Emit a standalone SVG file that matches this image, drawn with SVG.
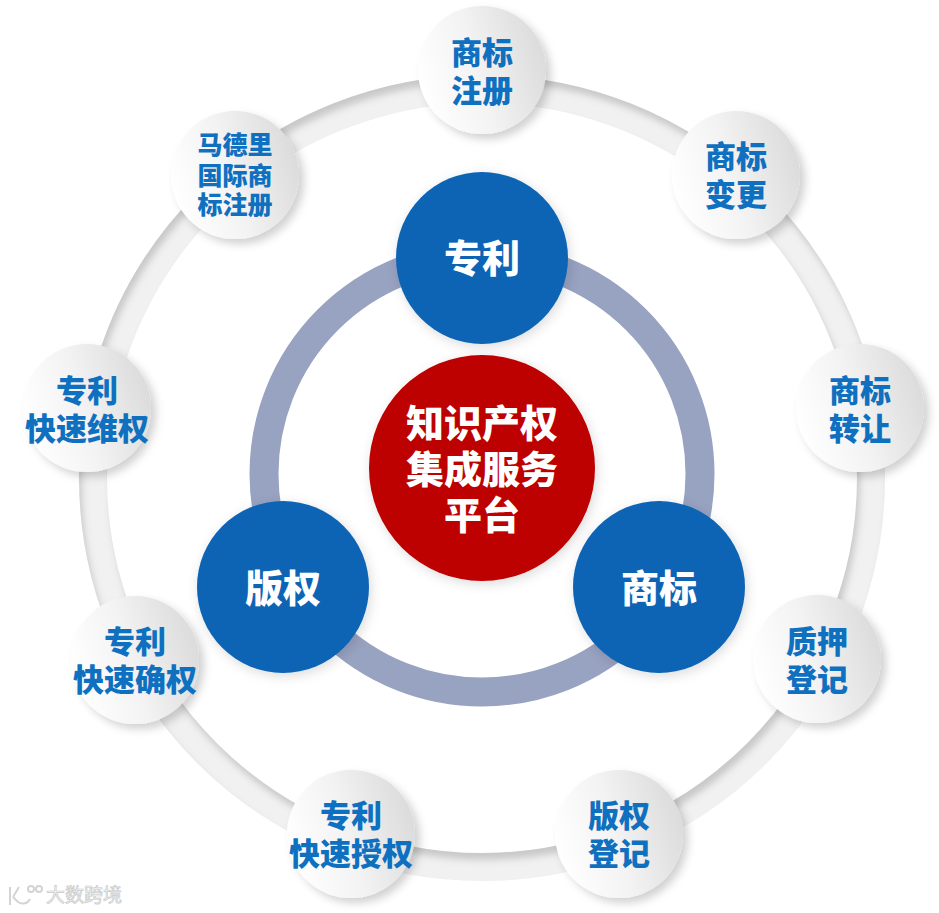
<svg xmlns="http://www.w3.org/2000/svg" width="939" height="913" viewBox="0 0 939 913">
<style>
text{font-family:"Noto Sans CJK SC","Liberation Sans",sans-serif;font-weight:900;text-anchor:middle}
.s{fill:#0f70c0;font-size:31px}
.s3{fill:#0f70c0;font-size:25px}
.b{fill:#fff;font-size:38px}
.r{fill:#fff;font-size:38px}
.w{fill:#f6f6f6;stroke:#c9c9c9;stroke-width:.7;font-size:19px;font-weight:400;text-anchor:start}
.n{fill:url(#g);filter:url(#ds)}
.bl{fill:#0a64b4;filter:url(#ds2)}
.wi{fill:none;stroke:#d4d4d4;stroke-width:2}
</style>
<defs>
<linearGradient id="g" x1="0" y1="0.6" x2="1" y2="0.3"><stop offset="0" stop-color="#fff"/><stop offset=".45" stop-color="#f3f3f3"/><stop offset="1" stop-color="#dadada"/></linearGradient>
<filter id="ds" x="-30%" y="-30%" width="160%" height="160%"><feDropShadow dx="5" dy="5" stdDeviation="4.5" flood-color="#000" flood-opacity=".18"/></filter>
<filter id="ds2" x="-30%" y="-30%" width="160%" height="160%"><feDropShadow dx="2" dy="3" stdDeviation="6" flood-color="#000" flood-opacity=".14"/></filter>
<filter id="rs" x="-5%" y="-5%" width="110%" height="110%">
<feComponentTransfer in="SourceAlpha" result="inv"><feFuncA type="table" tableValues="1 0"/></feComponentTransfer>
<feOffset in="inv" dx="3" dy="7" result="off"/>
<feGaussianBlur in="off" stdDeviation="3.5" result="bl"/>
<feFlood flood-color="#000" flood-opacity=".34"/>
<feComposite in2="bl" operator="in" result="sh"/>
<feComposite in="sh" in2="SourceAlpha" operator="in" result="clip"/>
<feMerge><feMergeNode in="SourceGraphic"/><feMergeNode in="clip"/></feMerge>
</filter>
</defs>
<g id="connectors">
<circle cx="482" cy="478" r="389" fill="none" stroke="#f1f1f1" stroke-width="28" filter="url(#rs)"/>
<circle cx="482" cy="474" r="218" fill="none" stroke="#98a2c1" stroke-width="29"/>
</g>
<g id="center"><circle cx="482" cy="468" r="113" fill="#bd0000" filter="url(#ds2)"/><text class="r" x="482" y="437">知识产权</text><text class="r" x="482" y="483">集成服务</text><text class="r" x="482" y="529">平台</text></g>
<g id="patent"><circle class="bl" cx="482" cy="258" r="86"/><text class="b" x="482" y="272">专利</text></g>
<g id="copyright"><circle class="bl" cx="283" cy="587" r="86"/><text class="b" x="283" y="602">版权</text></g>
<g id="trademark"><circle class="bl" cx="659" cy="587" r="86"/><text class="b" x="659" y="602">商标</text></g>
<g id="n1"><circle class="n" cx="482" cy="70" r="64"/><text class="s" x="482" y="64">商标</text><text class="s" x="482" y="102">注册</text></g>
<g id="n2"><circle class="n" cx="736" cy="175" r="64"/><text class="s" x="736" y="168">商标</text><text class="s" x="736" y="206">变更</text></g>
<g id="n3"><circle class="n" cx="860" cy="408" r="64"/><text class="s" x="860" y="402">商标</text><text class="s" x="860" y="440">转让</text></g>
<g id="n4"><circle class="n" cx="817" cy="659" r="64"/><text class="s" x="817" y="653">质押</text><text class="s" x="817" y="691">登记</text></g>
<g id="n5"><circle class="n" cx="619" cy="834" r="64"/><text class="s" x="619" y="827">版权</text><text class="s" x="619" y="865">登记</text></g>
<g id="n6"><circle class="n" cx="351" cy="834" r="64"/><text class="s" x="351" y="827">专利</text><text class="s" x="351" y="865">快速授权</text></g>
<g id="n7"><circle class="n" cx="135" cy="660" r="64"/><text class="s" x="135" y="653">专利</text><text class="s" x="135" y="691">快速确权</text></g>
<g id="n8"><circle class="n" cx="87" cy="408" r="64"/><text class="s" x="87" y="402">专利</text><text class="s" x="87" y="440">快速维权</text></g>
<g id="n9"><circle class="n" cx="235" cy="175" r="64"/><text class="s3" x="235" y="154">马德里</text><text class="s3" x="235" y="185">国际商</text><text class="s3" x="235" y="214">标注册</text></g>
<g id="watermark"><path class="wi" d="M10 887V905M13 897L19 887M30 899A8 8 0 0 1 18 902L13 897"/><circle class="wi" cx="31" cy="889" r="3"/><circle class="wi" cx="39" cy="889" r="3"/><text class="w" x="46" y="902">大数跨境</text></g>
</svg>
